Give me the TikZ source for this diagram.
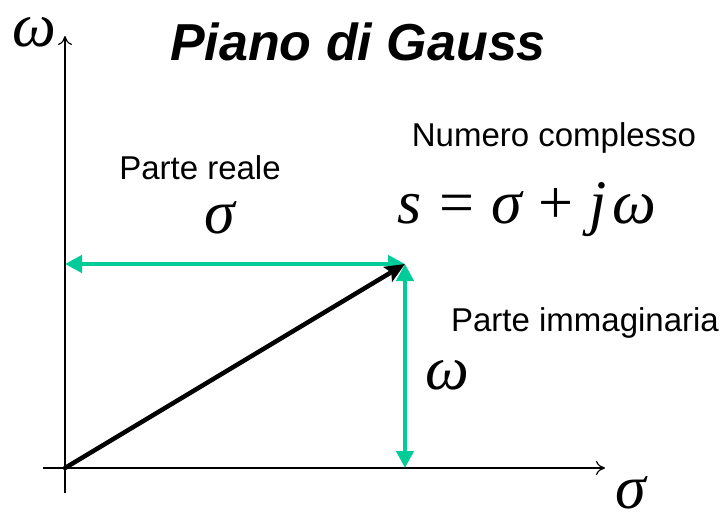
\RequirePackage{fix-cm}
\documentclass[tikz,border=0pt]{standalone}
\usepackage{fontspec}
\setmainfont{Liberation Sans}
\newfontfamily\tms{Liberation Serif}
\usetikzlibrary{arrows.meta}
\definecolor{gr}{RGB}{0,204,153}
\newcommand{\gap}[1]{\hspace{#1em}}
\begin{document}
\begin{tikzpicture}[x=1pt,y=-1pt,
  axis/.style={line width=1.6pt,-{To[length=9pt,width=14pt,line width=1.2pt]}},
  garrow/.style={draw=gr,line width=4.5pt,{Triangle[length=17pt,width=17pt]}-{Triangle[length=17pt,width=17pt]}},
  vec/.style={line width=4.5pt,line cap=round,-{Stealth[length=20pt,width=17pt,inset=4pt]}},
  lbl/.style={font=\fontsize{33}{38}\selectfont,inner sep=0pt},
  sym/.style={font=\tms\itshape\fontsize{62}{68}\selectfont,inner sep=0pt,anchor=base}]
\useasboundingbox (0,0) rectangle (722,513);
\coordinate (O) at (65,468);
\coordinate (P) at (405,264);
\coordinate (Ytop) at (65,36);
\coordinate (Ybot) at (65,493);
\coordinate (Xl) at (43,468);
\coordinate (Xr) at (605,468);
\coordinate (Yp) at (65,264);
\coordinate (Xp) at (405,468);
\draw[axis] (Ybot) -- (Ytop);
\draw[axis] (Xl) -- (Xr);
\draw[garrow] (Yp) -- (P);
\draw[garrow] (Xp) -- (P);
\draw[vec] (O) -- (P);
\node[font=\bfseries\itshape\fontsize{52}{58}\selectfont,inner sep=0pt] (title) at (358,42) {Piano di Gauss};
\node[sym] (wy) at (34,47) {ω};
\node[sym] (sx) at (631,508) {σ};
\node[lbl] (nc) at (554,138) {Numero complesso};
\node[font=\tms\fontsize{62}{68}\selectfont,inner sep=0pt,anchor=base] (eq) at (527,223)
  {\itshape s\upshape\gap{0.28}=\gap{0.28}\itshape σ\upshape\gap{0.26}+\gap{0.26}\itshape j\gap{0.1}ω};
\node[lbl] (pr) at (200,168) {Parte reale};
\node[sym] (sr) at (220,233) {σ};
\node[lbl] (pi) at (585,323) {Parte immaginaria};
\node[sym] (wi) at (447,389) {ω};
\end{tikzpicture}
\end{document}
